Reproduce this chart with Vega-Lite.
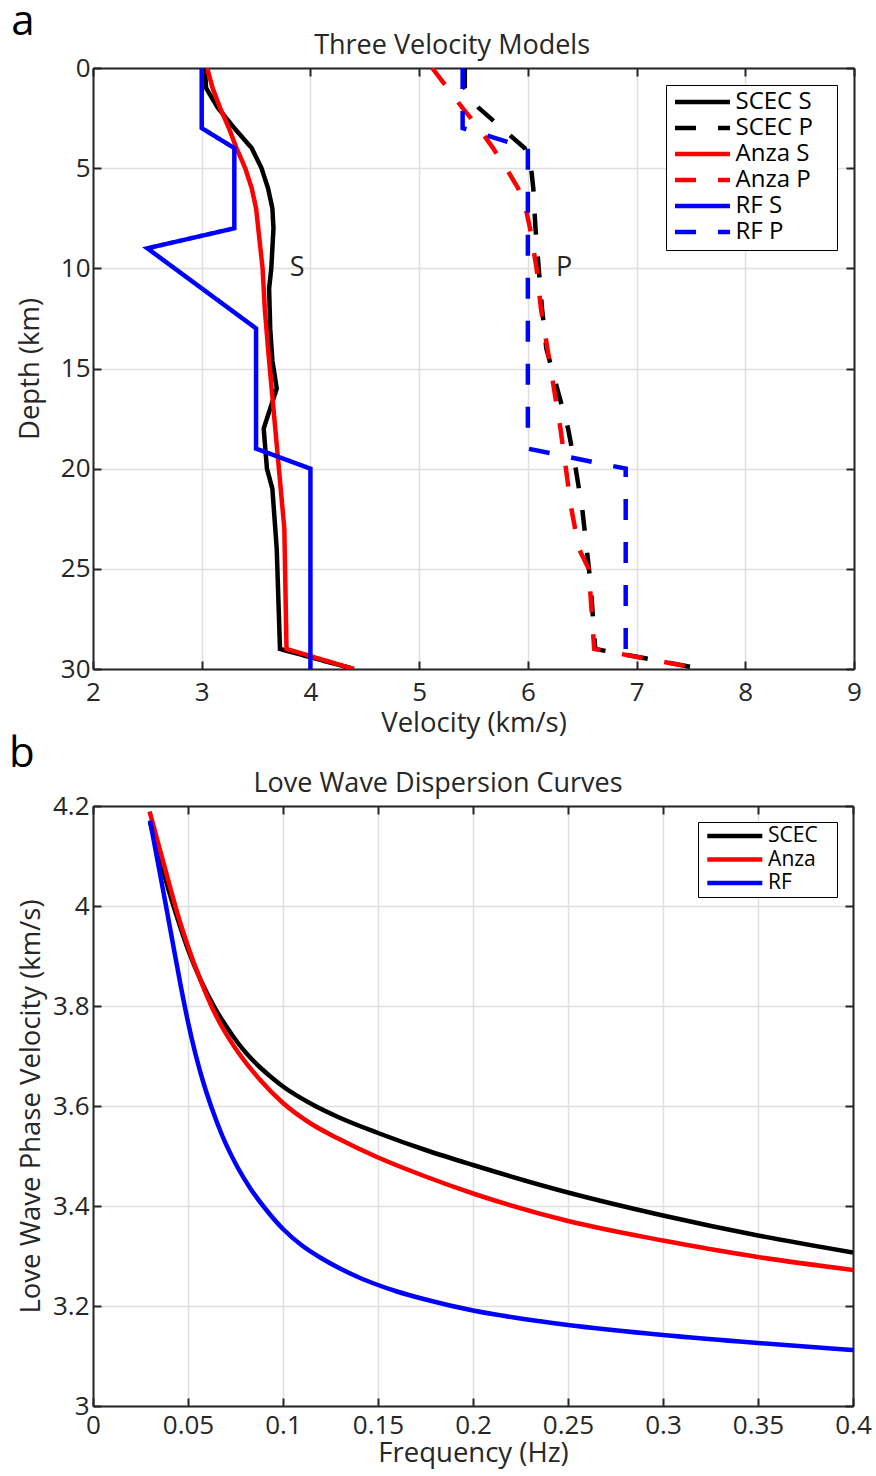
{
  "$schema": "https://vega.github.io/schema/vega-lite/v6.json",
  "padding": {"left": 9, "top": 0, "right": 5, "bottom": 5},
  "bounds": "flush",
  "spacing": 137,
  "config": {
    "font": "Open Sans",
    "view": {"stroke": null},
    "axis": {
      "domainColor": "#262626", "domainWidth": 2,
      "tickColor": "#262626", "tickWidth": 2, "tickSize": -8,
      "gridColor": "#dfdfdf", "gridWidth": 1.5,
      "labelColor": "#262626", "labelFontSize": 26, "labelPadding": 13, "labelFlush": false,
      "titleColor": "#262626", "titleFontSize": 27.5, "titleFontWeight": "normal"
    }
  },
  "resolve": {"scale": {"color": "independent", "strokeDash": "independent"}},
  "vconcat": [
    {
      "width": 761,
      "height": 601,
      "resolve": {"axis": {"x": "independent", "y": "independent"}},
      "layer": [
        {
          "data": {"values": [
            {"model": "SCEC S", "depth": 0, "v": 3.03}, {"model": "SCEC S", "depth": 1, "v": 3.04}, {"model": "SCEC S", "depth": 2, "v": 3.15}, {"model": "SCEC S", "depth": 3, "v": 3.30}, {"model": "SCEC S", "depth": 4, "v": 3.46}, {"model": "SCEC S", "depth": 5, "v": 3.55}, {"model": "SCEC S", "depth": 6, "v": 3.61}, {"model": "SCEC S", "depth": 7, "v": 3.65}, {"model": "SCEC S", "depth": 8, "v": 3.66}, {"model": "SCEC S", "depth": 9, "v": 3.65}, {"model": "SCEC S", "depth": 10, "v": 3.64}, {"model": "SCEC S", "depth": 11, "v": 3.62}, {"model": "SCEC S", "depth": 13, "v": 3.63}, {"model": "SCEC S", "depth": 14.6, "v": 3.65}, {"model": "SCEC S", "depth": 16, "v": 3.69}, {"model": "SCEC S", "depth": 18, "v": 3.57}, {"model": "SCEC S", "depth": 20, "v": 3.60}, {"model": "SCEC S", "depth": 21, "v": 3.65}, {"model": "SCEC S", "depth": 24, "v": 3.69}, {"model": "SCEC S", "depth": 29, "v": 3.72}, {"model": "SCEC S", "depth": 30, "v": 4.40},
            {"model": "SCEC P", "depth": 0, "v": 5.42}, {"model": "SCEC P", "depth": 1, "v": 5.42}, {"model": "SCEC P", "depth": 2, "v": 5.55}, {"model": "SCEC P", "depth": 3, "v": 5.76}, {"model": "SCEC P", "depth": 4, "v": 5.97}, {"model": "SCEC P", "depth": 5, "v": 6.03}, {"model": "SCEC P", "depth": 6, "v": 6.05}, {"model": "SCEC P", "depth": 8, "v": 6.07}, {"model": "SCEC P", "depth": 10, "v": 6.10}, {"model": "SCEC P", "depth": 12, "v": 6.13}, {"model": "SCEC P", "depth": 14, "v": 6.17}, {"model": "SCEC P", "depth": 16, "v": 6.27}, {"model": "SCEC P", "depth": 18, "v": 6.37}, {"model": "SCEC P", "depth": 20, "v": 6.44}, {"model": "SCEC P", "depth": 22, "v": 6.50}, {"model": "SCEC P", "depth": 24.9, "v": 6.56}, {"model": "SCEC P", "depth": 26, "v": 6.58}, {"model": "SCEC P", "depth": 29, "v": 6.62}, {"model": "SCEC P", "depth": 30, "v": 7.60},
            {"model": "Anza S", "depth": 0, "v": 3.05}, {"model": "Anza S", "depth": 1, "v": 3.10}, {"model": "Anza S", "depth": 2, "v": 3.17}, {"model": "Anza S", "depth": 3, "v": 3.25}, {"model": "Anza S", "depth": 4, "v": 3.32}, {"model": "Anza S", "depth": 5, "v": 3.40}, {"model": "Anza S", "depth": 6, "v": 3.46}, {"model": "Anza S", "depth": 7, "v": 3.50}, {"model": "Anza S", "depth": 8, "v": 3.52}, {"model": "Anza S", "depth": 10, "v": 3.56}, {"model": "Anza S", "depth": 12, "v": 3.58}, {"model": "Anza S", "depth": 14, "v": 3.61}, {"model": "Anza S", "depth": 17, "v": 3.66}, {"model": "Anza S", "depth": 20, "v": 3.71}, {"model": "Anza S", "depth": 23, "v": 3.76}, {"model": "Anza S", "depth": 29, "v": 3.78}, {"model": "Anza S", "depth": 30, "v": 4.40},
            {"model": "Anza P", "depth": 0, "v": 5.12}, {"model": "Anza P", "depth": 1, "v": 5.26}, {"model": "Anza P", "depth": 2, "v": 5.40}, {"model": "Anza P", "depth": 3, "v": 5.55}, {"model": "Anza P", "depth": 4, "v": 5.68}, {"model": "Anza P", "depth": 5, "v": 5.80}, {"model": "Anza P", "depth": 6, "v": 5.91}, {"model": "Anza P", "depth": 7, "v": 5.98}, {"model": "Anza P", "depth": 8, "v": 6.02}, {"model": "Anza P", "depth": 10, "v": 6.08}, {"model": "Anza P", "depth": 12, "v": 6.12}, {"model": "Anza P", "depth": 14, "v": 6.18}, {"model": "Anza P", "depth": 16, "v": 6.24}, {"model": "Anza P", "depth": 18, "v": 6.30}, {"model": "Anza P", "depth": 20, "v": 6.35}, {"model": "Anza P", "depth": 22, "v": 6.40}, {"model": "Anza P", "depth": 24, "v": 6.47}, {"model": "Anza P", "depth": 25, "v": 6.56}, {"model": "Anza P", "depth": 29, "v": 6.61}, {"model": "Anza P", "depth": 30, "v": 7.60},
            {"model": "RF S", "depth": 0, "v": 3.0}, {"model": "RF S", "depth": 3, "v": 3.0}, {"model": "RF S", "depth": 4, "v": 3.3}, {"model": "RF S", "depth": 8, "v": 3.3}, {"model": "RF S", "depth": 9, "v": 2.5}, {"model": "RF S", "depth": 13, "v": 3.5}, {"model": "RF S", "depth": 19, "v": 3.5}, {"model": "RF S", "depth": 20, "v": 4.0}, {"model": "RF S", "depth": 30, "v": 4.0},
            {"model": "RF P", "depth": 0, "v": 5.4}, {"model": "RF P", "depth": 3, "v": 5.4}, {"model": "RF P", "depth": 4, "v": 6.0}, {"model": "RF P", "depth": 19, "v": 6.0}, {"model": "RF P", "depth": 20, "v": 6.9}, {"model": "RF P", "depth": 30, "v": 6.9}
          ]},
          "mark": {"type": "line", "strokeWidth": 4.5, "clip": true},
          "encoding": {
            "x": {"field": "v", "type": "quantitative",
                  "scale": {"domain": [2, 9], "nice": false, "zero": false},
                  "axis": {"orient": "bottom", "values": [2, 3, 4, 5, 6, 7, 8, 9], "title": "Velocity (km/s)", "labelPadding": 18, "titlePadding": 4}},
            "y": {"field": "depth", "type": "quantitative",
                  "scale": {"domain": [0, 30], "nice": false, "zero": false, "reverse": true},
                  "axis": {"orient": "left", "values": [0, 5, 10, 15, 20, 25, 30], "title": "Depth (km)", "labelPadding": 11, "titlePadding": 15.5}},
            "color": {"field": "model", "type": "nominal",
                      "scale": {"domain": ["SCEC S", "SCEC P", "Anza S", "Anza P", "RF S", "RF P"],
                                "range": ["#000000", "#000000", "#ff0000", "#ff0000", "#0000ff", "#0000ff"]},
                      "legend": {"title": null, "orient": "top-right", "offset": 17, "fillColor": "#ffffff", "strokeColor": "#000000", "padding": 6, "labelFontSize": 24, "labelColor": "#000000", "symbolType": "stroke", "symbolSize": 3025, "symbolStrokeWidth": 4.5, "symbolOffset": 0.5, "labelOffset": 3, "clipHeight": 22, "rowPadding": 2.0, "labelExpr": "datum.label + '\u2800'"}},
            "strokeDash": {"field": "model", "type": "nominal",
                           "scale": {"domain": ["SCEC S", "SCEC P", "Anza S", "Anza P", "RF S", "RF P"],
                                     "range": [[1, 0], [21, 22], [1, 0], [21, 22], [1, 0], [21, 22]]},
                           "legend": {"title": null, "orient": "top-right", "offset": 17, "fillColor": "#ffffff", "strokeColor": "#000000", "padding": 6, "labelFontSize": 24, "labelColor": "#000000", "symbolType": "stroke", "symbolSize": 3025, "symbolStrokeWidth": 4.5, "symbolOffset": 0.5, "labelOffset": 3, "clipHeight": 22, "rowPadding": 2.0, "labelExpr": "datum.label + '\u2800'"}},
            "order": {"field": "depth", "type": "quantitative"}
          }
        },
        {
          "data": {"values": [{"label": "S", "v": 3.877, "depth": 9.98}, {"label": "P", "v": 6.333, "depth": 9.98}]},
          "mark": {"type": "text", "fontSize": 27, "color": "#262626", "baseline": "middle"},
          "encoding": {
            "x": {"field": "v", "type": "quantitative", "axis": {"orient": "top", "values": [2, 3, 4, 5, 6, 7, 8, 9], "labels": false, "title": null, "grid": false}},
            "y": {"field": "depth", "type": "quantitative", "axis": {"orient": "right", "values": [0, 5, 10, 15, 20, 25, 30], "labels": false, "title": null, "grid": false}},
            "text": {"field": "label"}
          }
        },
        {
          "data": {"values": [{"label": "Three Velocity Models", "v": 5.303, "depth": -1.1}]},
          "mark": {"type": "text", "fontSize": 27, "color": "#262626", "baseline": "middle"},
          "encoding": {
            "x": {"field": "v", "type": "quantitative", "axis": null},
            "y": {"field": "depth", "type": "quantitative", "axis": null},
            "text": {"field": "label"}
          }
        },
        {
          "data": {"values": [{"label": "a", "v": 1.356, "depth": -1.65}]},
          "mark": {"type": "text", "fontSize": 42, "color": "#000000", "baseline": "alphabetic"},
          "encoding": {
            "x": {"field": "v", "type": "quantitative", "axis": null},
            "y": {"field": "depth", "type": "quantitative", "axis": null},
            "text": {"field": "label"}
          }
        }
      ]
    },
    {
      "width": 760,
      "height": 600,
      "resolve": {"axis": {"x": "independent", "y": "independent"}},
      "layer": [
        {
          "data": {"values": [
            {"model": "SCEC", "f": 0.03, "vel": 4.168}, {"model": "SCEC", "f": 0.035, "vel": 4.097}, {"model": "SCEC", "f": 0.0398, "vel": 4.032}, {"model": "SCEC", "f": 0.045, "vel": 3.969}, {"model": "SCEC", "f": 0.05, "vel": 3.913}, {"model": "SCEC", "f": 0.057, "vel": 3.849}, {"model": "SCEC", "f": 0.064, "vel": 3.797}, {"model": "SCEC", "f": 0.07, "vel": 3.76}, {"model": "SCEC", "f": 0.0763, "vel": 3.726}, {"model": "SCEC", "f": 0.082, "vel": 3.70}, {"model": "SCEC", "f": 0.088, "vel": 3.677}, {"model": "SCEC", "f": 0.094, "vel": 3.657}, {"model": "SCEC", "f": 0.1, "vel": 3.639}, {"model": "SCEC", "f": 0.115, "vel": 3.604}, {"model": "SCEC", "f": 0.129, "vel": 3.578}, {"model": "SCEC", "f": 0.15, "vel": 3.546}, {"model": "SCEC", "f": 0.175, "vel": 3.512}, {"model": "SCEC", "f": 0.2, "vel": 3.482}, {"model": "SCEC", "f": 0.25, "vel": 3.427}, {"model": "SCEC", "f": 0.3, "vel": 3.381}, {"model": "SCEC", "f": 0.35, "vel": 3.341}, {"model": "SCEC", "f": 0.4, "vel": 3.307},
            {"model": "Anza", "f": 0.0298, "vel": 4.189}, {"model": "Anza", "f": 0.035, "vel": 4.116}, {"model": "Anza", "f": 0.041, "vel": 4.032}, {"model": "Anza", "f": 0.045, "vel": 3.978}, {"model": "Anza", "f": 0.05, "vel": 3.919}, {"model": "Anza", "f": 0.056, "vel": 3.857}, {"model": "Anza", "f": 0.0623, "vel": 3.80}, {"model": "Anza", "f": 0.069, "vel": 3.751}, {"model": "Anza", "f": 0.0763, "vel": 3.708}, {"model": "Anza", "f": 0.088, "vel": 3.652}, {"model": "Anza", "f": 0.1, "vel": 3.606}, {"model": "Anza", "f": 0.115, "vel": 3.564}, {"model": "Anza", "f": 0.129, "vel": 3.535}, {"model": "Anza", "f": 0.15, "vel": 3.497}, {"model": "Anza", "f": 0.175, "vel": 3.459}, {"model": "Anza", "f": 0.2, "vel": 3.425}, {"model": "Anza", "f": 0.25, "vel": 3.37}, {"model": "Anza", "f": 0.3, "vel": 3.331}, {"model": "Anza", "f": 0.35, "vel": 3.298}, {"model": "Anza", "f": 0.4, "vel": 3.272},
            {"model": "RF", "f": 0.03, "vel": 4.171}, {"model": "RF", "f": 0.034, "vel": 4.09}, {"model": "RF", "f": 0.038, "vel": 4.009}, {"model": "RF", "f": 0.042, "vel": 3.926}, {"model": "RF", "f": 0.0465, "vel": 3.834}, {"model": "RF", "f": 0.05, "vel": 3.768}, {"model": "RF", "f": 0.054, "vel": 3.703}, {"model": "RF", "f": 0.058, "vel": 3.648}, {"model": "RF", "f": 0.0623, "vel": 3.598}, {"model": "RF", "f": 0.068, "vel": 3.541}, {"model": "RF", "f": 0.0763, "vel": 3.476}, {"model": "RF", "f": 0.083, "vel": 3.434}, {"model": "RF", "f": 0.0904, "vel": 3.396}, {"model": "RF", "f": 0.1, "vel": 3.354}, {"model": "RF", "f": 0.11, "vel": 3.321}, {"model": "RF", "f": 0.12, "vel": 3.296}, {"model": "RF", "f": 0.129, "vel": 3.277}, {"model": "RF", "f": 0.14, "vel": 3.257}, {"model": "RF", "f": 0.15, "vel": 3.242}, {"model": "RF", "f": 0.16, "vel": 3.229}, {"model": "RF", "f": 0.175, "vel": 3.213}, {"model": "RF", "f": 0.2, "vel": 3.191}, {"model": "RF", "f": 0.225, "vel": 3.175}, {"model": "RF", "f": 0.25, "vel": 3.162}, {"model": "RF", "f": 0.3, "vel": 3.142}, {"model": "RF", "f": 0.35, "vel": 3.126}, {"model": "RF", "f": 0.4, "vel": 3.112}
          ]},
          "mark": {"type": "line", "strokeWidth": 4.5, "clip": true, "interpolate": "monotone"},
          "encoding": {
            "x": {"field": "f", "type": "quantitative",
                  "scale": {"domain": [0, 0.4], "nice": false},
                  "axis": {"orient": "bottom", "values": [0, 0.05, 0.1, 0.15, 0.2, 0.25, 0.3, 0.35, 0.4], "format": "~g", "title": "Frequency (Hz)", "labelPadding": 14, "titlePadding": 1}},
            "y": {"field": "vel", "type": "quantitative",
                  "scale": {"domain": [3, 4.2], "nice": false, "zero": false},
                  "axis": {"orient": "left", "values": [3, 3.2, 3.4, 3.6, 3.8, 4, 4.2], "format": "~g", "title": "Love Wave Phase Velocity (km/s)", "labelPadding": 12, "titlePadding": 6.5}},
            "color": {"field": "model", "type": "nominal",
                      "scale": {"domain": ["SCEC", "Anza", "RF"], "range": ["#000000", "#ff0000", "#0000ff"]},
                      "legend": {"title": null, "orient": "top-right", "offset": 16, "fillColor": "#ffffff", "strokeColor": "#000000", "padding": 4, "labelFontSize": 21, "labelColor": "#000000", "symbolType": "stroke", "symbolSize": 3025, "symbolStrokeWidth": 4.5, "symbolOffset": 2.8, "labelOffset": 3.3, "clipHeight": 20, "rowPadding": 2.5, "labelExpr": "datum.label + '\u2800'"}}
          }
        },
        {
          "data": {"values": [{"label": "Love Wave Dispersion Curves", "f": 0.1816, "vel": 4.244}]},
          "mark": {"type": "text", "fontSize": 27, "color": "#262626", "baseline": "middle"},
          "encoding": {
            "x": {"field": "f", "type": "quantitative", "axis": {"orient": "top", "values": [0, 0.05, 0.1, 0.15, 0.2, 0.25, 0.3, 0.35, 0.4], "labels": false, "title": null, "grid": false}},
            "y": {"field": "vel", "type": "quantitative", "axis": {"orient": "right", "values": [3, 3.2, 3.4, 3.6, 3.8, 4, 4.2], "labels": false, "title": null, "grid": false}},
            "text": {"field": "label"}
          }
        },
        {
          "data": {"values": [{"label": "b", "f": -0.0374, "vel": 4.278}]},
          "mark": {"type": "text", "fontSize": 42, "color": "#000000", "baseline": "alphabetic"},
          "encoding": {
            "x": {"field": "f", "type": "quantitative", "axis": null},
            "y": {"field": "vel", "type": "quantitative", "axis": null},
            "text": {"field": "label"}
          }
        }
      ]
    }
  ]
}
